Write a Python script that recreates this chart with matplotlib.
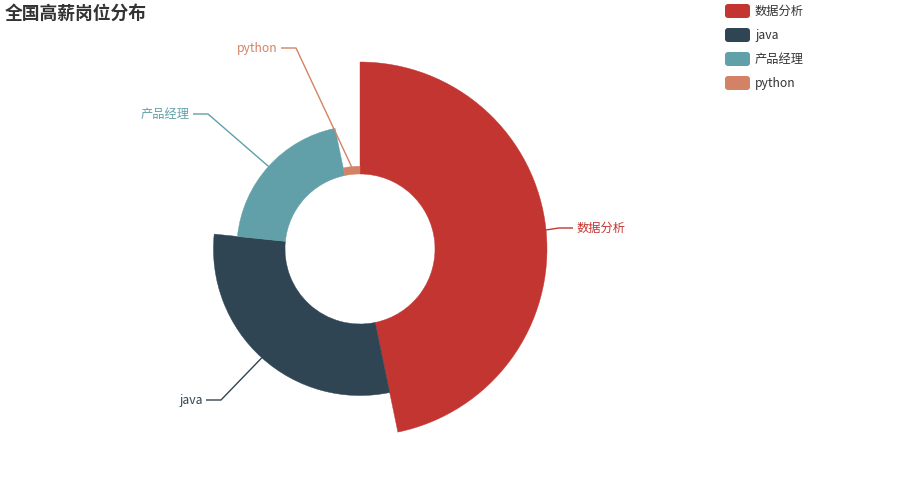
import numpy as np
import matplotlib
matplotlib.use("Agg")
import matplotlib.pyplot as plt
from matplotlib.patches import Wedge, FancyBboxPatch

plt.rcParams['font.family'] = ['Noto Sans CJK SC', 'DejaVu Sans']

categories = ['数据分析', 'java', '产品经理', 'python']
values = [144, 92, 62, 10]
colors = ['#c23531', '#2f4554', '#61a0a8', '#d48265']
title = '全国高薪岗位分布'

W, H = 900, 500
fig = plt.figure(figsize=(9, 5), dpi=100)
ax = fig.add_axes([0, 0, 1, 1])
ax.set_xlim(0, W)
ax.set_ylim(0, H)
ax.axis('off')

def Y(py):
    return H - py

cx, cy = 360, Y(249)
r0, r1 = 75, 187
total = sum(values)
vmax = max(values)

# label layout (pixel coords): elbow point, end point, text anchor x, ha
label_layout = {
    '数据分析': ((559, 228), (573, 228), 577, 'left'),
    'java': ((221, 400), (206, 400), 203, 'right'),
    '产品经理': ((208, 114), (193, 114), 190, 'right'),
    'python': ((296, 48), (281, 48), 277, 'right'),
}

start = 90.0
for cat, v, c in zip(categories, values, colors):
    sweep = 360.0 * v / total
    r = r0 + (r1 - r0) * v / vmax
    t1, t2 = start - sweep, start
    ax.add_patch(Wedge((cx, cy), r, t1, t2, width=r - r0, facecolor=c,
                       edgecolor=c, linewidth=0.3))
    mid = np.deg2rad((t1 + t2) / 2)
    px, py = cx + r * np.cos(mid), cy + r * np.sin(mid)
    (ex, ey), (fx, fy), tx, ha = label_layout[cat]
    ax.plot([px, ex, fx], [py, Y(ey), Y(fy)], color=c, lw=1, solid_capstyle='butt')
    ax.text(tx, Y(fy) - 0.8, cat, color=c, fontsize=8.8, ha=ha, va='center')
    start = t1

ax.text(5, Y(14), title, fontsize=12.8, fontweight='bold', color='#333333',
        ha='left', va='center')

for i, (cat, c) in enumerate(zip(categories, colors)):
    yc = 11 + 24 * i
    ax.add_patch(FancyBboxPatch((725, Y(yc) - 7), 25, 14,
                                boxstyle='round,pad=0,rounding_size=3',
                                facecolor=c, edgecolor='none'))
    ax.text(755, Y(yc) - 0.8, cat, fontsize=8.8, color='#333333', ha='left', va='center')

fig.savefig('out.png', dpi=100)
